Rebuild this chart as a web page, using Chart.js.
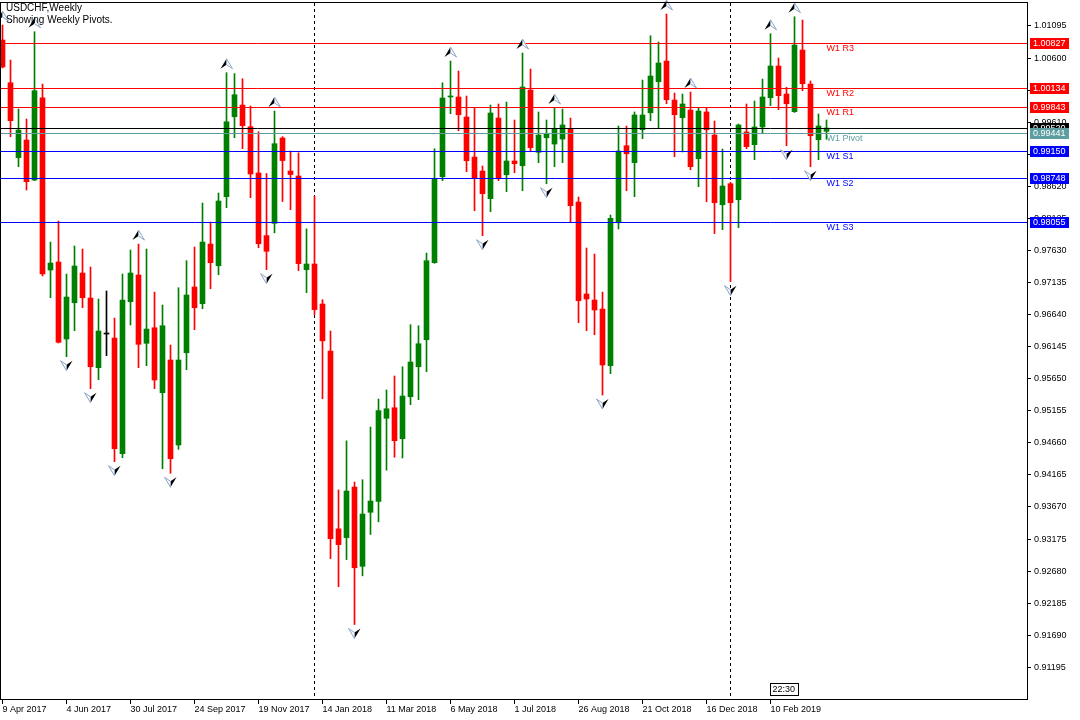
<!DOCTYPE html>
<html>
<head>
<meta charset="utf-8">
<title>USDCHF,Weekly</title>
<script src="https://cdn.jsdelivr.net/npm/chart.js@4.4.1/dist/chart.umd.min.js"></script>
<style>
  html, body { margin: 0; padding: 0; background: #fff; }
  #wrap { width: 1080px; height: 720px; }
</style>
</head>
<body>
<div id="wrap"><canvas id="chart" width="1080" height="720"></canvas></div>
<script>
// Weekly USDCHF candles, 9 Apr 2017 .. 24 Mar 2019 (one value per week)
const opens = [
  1.00879, 1.00219, 0.99062, 0.99335, 0.98717, 0.99988, 0.97328, 0.97452, 0.96263, 0.96823,
  0.97282, 0.96896, 0.95820, 0.96340, 0.96278, 0.94492, 0.96839, 0.97251, 0.96197, 0.96437,
  0.95434, 0.95939, 0.94627, 0.96051, 0.97066, 0.96808, 0.97729, 0.97394, 0.98460, 0.99694,
  0.99875, 0.99540, 0.98826, 0.97859, 0.98049, 0.99366, 0.98856, 0.98779, 0.97334, 0.97421,
  0.96803, 0.96078, 0.93333, 0.93197, 0.93978, 0.92754, 0.93588, 0.93756, 0.95039, 0.95202,
  0.94724, 0.95372, 0.95835, 0.96252, 0.97441, 0.98768, 0.99999, 0.99999, 0.99690, 0.99072,
  0.98856, 0.98429, 0.99674, 0.98799, 0.99011, 0.98938, 1.00107, 0.99145, 0.99370, 0.99273,
  0.99350, 0.99509, 0.98378, 0.96958, 0.96865, 0.96726, 0.95851, 0.98058, 0.99247, 0.98985,
  0.99494, 0.99756, 1.00235, 1.00554, 0.99952, 0.99679, 0.99798, 0.99047, 0.99768, 0.99412,
  0.98336, 0.98660, 0.98413, 0.99459, 0.99263, 0.99536, 0.99988, 1.00477, 1.00045, 0.99772,
  1.00724, 1.00199, 0.99340, 0.99469
];
const highs = [
  1.01110, 1.00570, 0.99813, 0.99659, 1.01007, 1.00199, 0.97760, 0.98084, 0.97266, 0.97699,
  0.97652, 0.97374, 0.96880, 0.97004, 0.96587, 0.97266, 0.97637, 0.97729, 0.97652, 0.96988,
  0.96788, 0.96170, 0.97055, 0.97472, 0.97683, 0.98362, 0.98069, 0.98517, 1.00374, 1.00360,
  1.00281, 0.99860, 0.99463, 0.98818, 0.99783, 0.99387, 0.99165, 0.99137, 0.97963, 0.98466,
  0.96870, 0.96386, 0.93933, 0.94691, 0.94055, 0.94091, 0.94904, 0.95337, 0.95477, 0.95692,
  0.95835, 0.96484, 0.96468, 0.97590, 0.99201, 1.00219, 1.00554, 1.00400, 1.00014, 0.99840,
  0.98934, 0.99875, 0.99891, 0.99921, 0.99644, 1.00678, 1.00431, 0.99768, 0.99644, 0.99829,
  0.99813, 0.99674, 0.98455, 0.97668, 0.97575, 0.96988, 0.98177, 0.99551, 0.99551, 0.99768,
  1.00261, 1.00945, 1.00848, 1.01280, 1.00060, 1.00045, 1.00076, 0.99833, 0.99833, 0.99628,
  0.99196, 0.98682, 0.99582, 0.99891, 0.99937, 1.00276, 1.00976, 1.00601, 1.00148, 1.01238,
  1.01187, 1.00246, 0.99737, 0.99644
];
const lows = [
  1.00447, 0.99386, 0.98923, 0.98563, 0.98707, 0.97236, 0.96900, 0.96201, 0.95990, 0.96391,
  0.96746, 0.95496, 0.95635, 0.96005, 0.94369, 0.94430, 0.96479, 0.95820, 0.95851, 0.95496,
  0.94261, 0.94190, 0.94560, 0.95789, 0.96406, 0.96731, 0.97039, 0.97255, 0.98290, 0.99370,
  0.99201, 0.98444, 0.97672, 0.97334, 0.97902, 0.98385, 0.98260, 0.97319, 0.96978, 0.96641,
  0.95341, 0.92873, 0.92439, 0.92858, 0.91856, 0.92607, 0.93246, 0.93441, 0.94238, 0.94438,
  0.94426, 0.95249, 0.95326, 0.95758, 0.97432, 0.98707, 0.99741, 0.99478, 0.98846, 0.98243,
  0.97858, 0.98228, 0.98707, 0.98537, 0.98830, 0.98552, 0.99154, 0.98985, 0.98660, 0.98923,
  0.98985, 0.98058, 0.96515, 0.96391, 0.96329, 0.95398, 0.95728, 0.97961, 0.98552, 0.98460,
  0.99355, 0.99633, 0.99516, 0.99895, 0.99077, 0.99150, 0.98876, 0.98614, 0.98382, 0.97890,
  0.97950, 0.97148, 0.97981, 0.99201, 0.99031, 0.99448, 0.99864, 0.99803, 0.99247, 0.99760,
  1.00096, 0.98923, 0.99031, 0.99346
];
const closes = [
  1.00462, 0.99633, 0.99489, 0.98691, 1.00096, 0.97266, 0.97436, 0.96212, 0.96911, 0.97390,
  0.96900, 0.95835, 0.96386, 0.96340, 0.94569, 0.96865, 0.97282, 0.96181, 0.96417, 0.95630,
  0.96468, 0.94415, 0.95939, 0.96942, 0.96746, 0.97760, 0.97441, 0.98393, 0.99617, 1.00034,
  0.99556, 0.98810, 0.97734, 0.97617, 0.99278, 0.99018, 0.98802, 0.97427, 0.97421, 0.96717,
  0.96235, 0.93182, 0.93089, 0.93916, 0.92732, 0.93561, 0.93762, 0.95158, 0.95186, 0.94693,
  0.95383, 0.95908, 0.96190, 0.97472, 0.98744, 0.99983, 1.00014, 0.99725, 0.99015, 0.98753,
  0.98506, 0.99752, 0.98737, 0.99011, 0.98969, 1.00153, 0.99216, 0.99412, 0.99439, 0.99516,
  0.99567, 0.98321, 0.96854, 0.96880, 0.96711, 0.95862, 0.98126, 0.99165, 0.99123, 0.99721,
  0.99721, 1.00323, 1.00524, 0.99957, 0.99725, 0.99891, 0.98923, 0.99783, 0.99494, 0.98367,
  0.98625, 0.98367, 0.99567, 0.99232, 0.99536, 0.99999, 1.00477, 1.00019, 0.99895, 1.00801,
  1.00204, 0.99401, 0.99551, 0.99520
];

// time axis labels (bar index -> label)
const tickIndex = [0, 8, 16, 24, 32, 40, 48, 56, 64, 72, 80, 88, 96];
const tickLabels = ['9 Apr 2017', '4 Jun 2017', '30 Jul 2017', '24 Sep 2017', '19 Nov 2017',
  '14 Jan 2018', '11 Mar 2018', '6 May 2018', '1 Jul 2018', '26 Aug 2018', '21 Oct 2018',
  '16 Dec 2018', '10 Feb 2019'];
// price axis labels
const priceTicks = [1.01095, 1.00600, 1.00105, 0.99610, 0.99115, 0.98620, 0.98125, 0.97630,
  0.97135, 0.96640, 0.96145, 0.95650, 0.95155, 0.94660, 0.94165, 0.93670, 0.93175, 0.92680,
  0.92185, 0.91690, 0.91195];

// weekly pivot levels
const pivotNames = ['W1 R3', 'W1 R2', 'W1 R1', 'W1 Pivot', 'W1 S1', 'W1 S2', 'W1 S3'];
const pivotValues = [1.00827, 1.00134, 0.99843, 0.99441, 0.99150, 0.98748, 0.98055];
const pivotColors = ['#ff0000', '#ff0000', '#ff0000', '#5f9ea0', '#0000ff', '#0000ff', '#0000ff'];

// fractal bars and year separators (bar indices)
const fractalUp = [0, 4, 17, 28, 34, 56, 65, 69, 83, 86, 96, 99];
const fractalDown = [8, 11, 14, 21, 33, 44, 60, 68, 75, 91, 98, 101];
const yearStarts = [39, 91];

const GREEN = '#008000', RED = '#ff0000', BLACK = '#000000';
const FONT = "'Liberation Sans', Arial, sans-serif";
Chart.defaults.font.family = FONT;
Chart.defaults.font.size = 9;
Chart.defaults.color = '#000';

const idx = closes.map((c, i) => i);
const colors = idx.map(i => closes[i] > opens[i] ? GREEN : (closes[i] < opens[i] ? RED : BLACK));
const lastBar = closes.length - 1;

function drawArrow(ctx, cx, cy, up) {
  const s = up ? 1 : -1;
  const tip = [cx, cy - 5 * s], left = [cx - 6, cy + 5 * s], right = [cx + 6, cy + 5 * s];
  const notch = [cx, cy + 1 * s];
  const dark = up ? left : right, light = up ? right : left;
  ctx.fillStyle = '#000';
  ctx.beginPath(); ctx.moveTo(tip[0], tip[1]); ctx.lineTo(dark[0], dark[1]);
  ctx.lineTo(notch[0], notch[1]); ctx.closePath(); ctx.fill();
  ctx.fillStyle = '#f4f7fb'; ctx.strokeStyle = '#8fa6c4'; ctx.lineWidth = 1;
  ctx.beginPath(); ctx.moveTo(tip[0], tip[1]); ctx.lineTo(notch[0], notch[1]);
  ctx.lineTo(light[0], light[1]); ctx.closePath(); ctx.fill(); ctx.stroke();
}

function hLine(ctx, area, y, color) {
  const py = Math.floor(y) + 0.5;
  ctx.strokeStyle = color; ctx.lineWidth = 1;
  ctx.beginPath(); ctx.moveTo(area.left, py); ctx.lineTo(area.right, py); ctx.stroke();
}

function axisLabel(ctx, area, y, value, color) {
  const py = Math.floor(y);
  ctx.fillStyle = color;
  ctx.fillRect(area.right + 3, py - 5, 39, 11);
  ctx.fillStyle = '#fff';
  ctx.font = '9px ' + FONT;
  ctx.textAlign = 'left'; ctx.textBaseline = 'middle';
  ctx.fillText(value.toFixed(5), area.right + 6, py + 0.5);
}

const mtPlugin = {
  id: 'mt4',
  beforeDatasetsDraw(chart) {
    const { ctx, chartArea: a, scales: { x } } = chart;
    ctx.save();
    ctx.strokeStyle = '#000'; ctx.lineWidth = 1; ctx.setLineDash([3, 3]);
    yearStarts.forEach(i => {
      const px = Math.floor(x.getPixelForValue(i)) + 0.5;
      ctx.beginPath(); ctx.moveTo(px, a.top); ctx.lineTo(px, a.bottom); ctx.stroke();
    });
    ctx.restore();
  },
  afterDatasetsDraw(chart) {
    const { ctx, chartArea: a, scales: { x, y } } = chart;
    ctx.save();
    // current price line
    hLine(ctx, a, y.getPixelForValue(closes[lastBar]), '#000');
    // pivot lines and their names
    const tx = x.getPixelForValue(lastBar);
    pivotValues.forEach((v, i) => {
      const py = y.getPixelForValue(v);
      hLine(ctx, a, py, pivotColors[i]);
      ctx.fillStyle = pivotColors[i];
      ctx.font = '9px ' + FONT;
      ctx.textAlign = 'left'; ctx.textBaseline = 'top';
      ctx.fillText(pivotNames[i], tx, Math.floor(py) + 1);
    });
    // fractals
    fractalUp.forEach(i => drawArrow(ctx, x.getPixelForValue(i), y.getPixelForValue(highs[i]) - 9, true));
    fractalDown.forEach(i => drawArrow(ctx, x.getPixelForValue(i), y.getPixelForValue(lows[i]) + 9, false));
    ctx.restore();
  },
  afterDraw(chart) {
    const { ctx, chartArea: a, scales: { x, y } } = chart;
    ctx.save();
    // frame
    ctx.strokeStyle = '#000'; ctx.lineWidth = 1;
    ctx.strokeRect(a.left - 0.5, a.top - 0.5, a.right - a.left + 1, a.bottom - a.top + 1);
    // price boxes on the axis
    axisLabel(ctx, a, y.getPixelForValue(closes[lastBar]), closes[lastBar], '#000');
    pivotValues.forEach((v, i) => axisLabel(ctx, a, y.getPixelForValue(v), v, pivotColors[i]));
    // title
    ctx.fillStyle = '#000';
    ctx.font = '10px ' + FONT;
    ctx.textAlign = 'left'; ctx.textBaseline = 'alphabetic';
    ctx.fillText('USDCHF,Weekly', 6, 11);
    ctx.fillText('Showing Weekly Pivots.', 6, 23);
    // time box
    const bx = Math.floor(x.getPixelForValue(96)) + 0.5;
    ctx.fillStyle = '#fff';
    ctx.fillRect(bx, a.bottom - 15.5, 28, 12);
    ctx.strokeRect(bx, a.bottom - 15.5, 28, 12);
    ctx.fillStyle = '#000';
    ctx.font = '9px ' + FONT;
    ctx.textBaseline = 'middle';
    ctx.fillText('22:30', bx + 2, a.bottom - 9);
    ctx.restore();
  }
};

new Chart(document.getElementById('chart').getContext('2d'), {
  type: 'bar',
  data: {
    datasets: [
      {
        label: 'Wick',
        data: idx.map(i => ({ x: i, y: [lows[i], highs[i]] })),
        backgroundColor: colors,
        barThickness: 1,
        grouped: false,
        order: 1
      },
      {
        label: 'USDCHF',
        data: idx.map(i => ({ x: i, y: [opens[i], closes[i]] })),
        backgroundColor: colors,
        barThickness: 5,
        minBarLength: 1,
        grouped: false,
        order: 0
      }
    ]
  },
  options: {
    responsive: false,
    animation: false,
    events: [],
    layout: { padding: { left: 1, top: 3, right: 0, bottom: 0 } },
    plugins: { legend: { display: false }, tooltip: { enabled: false } },
    scales: {
      x: {
        type: 'linear',
        min: -0.1875,
        max: 128.0625,
        offset: false,
        bounds: 'data',
        grid: { display: true, offset: false, drawOnChartArea: false, drawTicks: true, tickLength: 5, color: '#000' },
        border: { display: true, color: '#000' },
        ticks: {
          autoSkip: false, maxRotation: 0, minRotation: 0, align: 'start', padding: 0,
          callback: v => tickLabels[tickIndex.indexOf(v)] || ''
        },
        afterBuildTicks: s => { s.ticks = tickIndex.map(v => ({ value: v })); },
        afterFit: s => { s.height = 21; s.paddingLeft = 0; s.paddingRight = 0; }
      },
      y: {
        position: 'right',
        min: 0.907059,
        max: 1.014500,
        beginAtZero: false,
        bounds: 'data',
        grid: { display: true, drawOnChartArea: false, drawTicks: true, tickLength: 4, color: '#000' },
        border: { display: true, color: '#000' },
        ticks: { padding: 3, callback: v => v.toFixed(5) },
        afterBuildTicks: s => { s.ticks = priceTicks.map(v => ({ value: v })); },
        afterFit: s => { s.width = 53; s.paddingTop = 0; s.paddingBottom = 0; }
      }
    }
  },
  plugins: [mtPlugin]
});
</script>
</body>
</html>
